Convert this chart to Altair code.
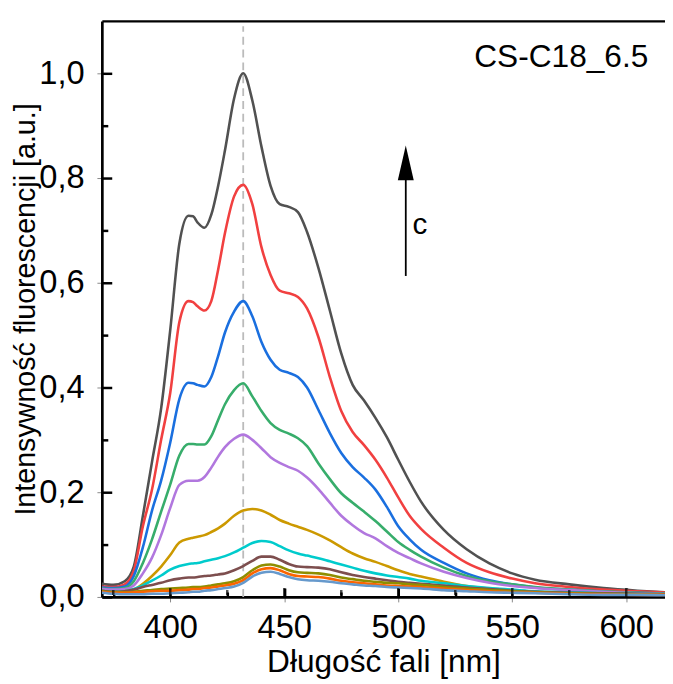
import altair as alt
import pandas as pd

# ---------------- data ----------------
WL = [370, 375, 380, 384, 388, 392, 396, 400, 404, 408, 410, 412, 415, 418, 421, 424,
      428, 432, 436, 440, 444, 448, 452, 456, 460, 465, 470, 475, 480, 485, 490, 495,
      500, 505, 510, 520, 530, 540, 550, 560, 575, 590, 605, 620]

S01 = [0.025, 0.023, 0.030, 0.058, 0.155, 0.258, 0.360, 0.510, 0.675, 0.728, 0.727, 0.715, 0.705, 0.730, 0.785, 0.853,
       0.952, 1.000, 0.948, 0.860, 0.785, 0.750, 0.745, 0.735, 0.697, 0.628, 0.547, 0.465, 0.405, 0.375, 0.342, 0.305,
       0.262, 0.220, 0.182, 0.128, 0.091, 0.064, 0.045, 0.033, 0.024, 0.017, 0.012, 0.008]
S02 = [0.020, 0.019, 0.024, 0.050, 0.135, 0.205, 0.300, 0.390, 0.525, 0.565, 0.563, 0.555, 0.547, 0.565, 0.625, 0.695,
       0.765, 0.787, 0.750, 0.668, 0.615, 0.585, 0.580, 0.573, 0.551, 0.496, 0.420, 0.355, 0.315, 0.290, 0.262, 0.228,
       0.190, 0.155, 0.130, 0.094, 0.065, 0.047, 0.035, 0.026, 0.019, 0.014, 0.011, 0.008]
S03 = [0.018, 0.017, 0.020, 0.040, 0.095, 0.165, 0.222, 0.295, 0.378, 0.409, 0.408, 0.405, 0.402, 0.420, 0.460, 0.505,
       0.545, 0.565, 0.536, 0.487, 0.453, 0.434, 0.428, 0.420, 0.400, 0.357, 0.313, 0.275, 0.248, 0.228, 0.205, 0.172,
       0.135, 0.110, 0.090, 0.065, 0.045, 0.032, 0.024, 0.018, 0.014, 0.010, 0.008, 0.006]
S04 = [0.016, 0.015, 0.017, 0.030, 0.065, 0.110, 0.163, 0.215, 0.270, 0.292, 0.292, 0.291, 0.291, 0.307, 0.338, 0.368,
       0.395, 0.408, 0.383, 0.355, 0.332, 0.319, 0.312, 0.303, 0.288, 0.255, 0.225, 0.198, 0.180, 0.163, 0.145, 0.125,
       0.105, 0.090, 0.077, 0.056, 0.040, 0.030, 0.024, 0.019, 0.014, 0.011, 0.008, 0.006]
S05 = [0.015, 0.014, 0.015, 0.022, 0.045, 0.075, 0.118, 0.170, 0.214, 0.222, 0.222, 0.222, 0.229, 0.247, 0.268, 0.286,
       0.302, 0.310, 0.300, 0.284, 0.267, 0.256, 0.248, 0.241, 0.228, 0.206, 0.180, 0.155, 0.137, 0.122, 0.112, 0.097,
       0.084, 0.074, 0.064, 0.048, 0.036, 0.027, 0.021, 0.017, 0.013, 0.010, 0.007, 0.005]
S06 = [0.012, 0.010, 0.011, 0.014, 0.025, 0.040, 0.058, 0.080, 0.104, 0.111, 0.113, 0.115, 0.118, 0.124, 0.131, 0.140,
       0.155, 0.165, 0.168, 0.165, 0.157, 0.147, 0.140, 0.134, 0.128, 0.119, 0.108, 0.095, 0.083, 0.074, 0.067, 0.059,
       0.051, 0.044, 0.039, 0.029, 0.021, 0.016, 0.013, 0.010, 0.008, 0.006, 0.005, 0.004]
S07 = [0.012, 0.010, 0.011, 0.015, 0.022, 0.031, 0.041, 0.052, 0.059, 0.063, 0.064, 0.065, 0.068, 0.071, 0.074, 0.078,
       0.085, 0.094, 0.103, 0.107, 0.105, 0.097, 0.089, 0.083, 0.079, 0.074, 0.068, 0.062, 0.056, 0.050, 0.045, 0.041,
       0.038, 0.035, 0.031, 0.026, 0.021, 0.017, 0.014, 0.011, 0.009, 0.007, 0.006, 0.005]
S08 = [0.012, 0.010, 0.011, 0.014, 0.019, 0.023, 0.027, 0.032, 0.035, 0.037, 0.037, 0.038, 0.040, 0.041, 0.043, 0.045,
       0.051, 0.059, 0.069, 0.077, 0.077, 0.071, 0.063, 0.058, 0.057, 0.056, 0.053, 0.047, 0.042, 0.038, 0.035, 0.032,
       0.029, 0.027, 0.025, 0.022, 0.018, 0.015, 0.012, 0.010, 0.008, 0.007, 0.006, 0.005]
S09 = [0.011, 0.009, 0.009, 0.010, 0.012, 0.013, 0.015, 0.016, 0.017, 0.018, 0.019, 0.019, 0.020, 0.022, 0.024, 0.026,
       0.030, 0.038, 0.051, 0.060, 0.062, 0.058, 0.051, 0.047, 0.046, 0.045, 0.042, 0.037, 0.034, 0.031, 0.029, 0.027,
       0.026, 0.024, 0.023, 0.019, 0.016, 0.013, 0.011, 0.009, 0.007, 0.006, 0.005, 0.004]
S10 = [0.010, 0.008, 0.008, 0.009, 0.010, 0.011, 0.012, 0.012, 0.013, 0.014, 0.015, 0.015, 0.017, 0.018, 0.020, 0.022,
       0.025, 0.032, 0.045, 0.053, 0.055, 0.051, 0.044, 0.040, 0.039, 0.038, 0.035, 0.031, 0.028, 0.026, 0.024, 0.022,
       0.021, 0.020, 0.019, 0.016, 0.013, 0.011, 0.009, 0.008, 0.006, 0.005, 0.004, 0.004]
S11 = [0.008, 0.006, 0.005, 0.005, 0.005, 0.006, 0.006, 0.007, 0.008, 0.009, 0.010, 0.010, 0.012, 0.013, 0.015, 0.017,
       0.020, 0.027, 0.039, 0.046, 0.048, 0.044, 0.038, 0.034, 0.032, 0.031, 0.029, 0.026, 0.024, 0.022, 0.021, 0.019,
       0.018, 0.017, 0.016, 0.013, 0.011, 0.009, 0.008, 0.007, 0.005, 0.004, 0.004, 0.003]

SERIES = [S01, S02, S03, S04, S05, S06, S07, S08, S09, S10, S11]
NAMES = ["s01", "s02", "s03", "s04", "s05", "s06", "s07", "s08", "s09", "s10", "s11"]
COLORS = ["#515151", "#F14040", "#1A6FDF", "#37AD6B", "#B177DE", "#CC9900",
          "#00CBCC", "#7D4E4E", "#8E8E00", "#FB6501", "#6699CC"]

X_TICKS = [400, 450, 500, 550, 600]
X_MINOR = [375, 425, 475, 525, 575]
Y_TICKS = [0.0, 0.2, 0.4, 0.6, 0.8, 1.0]
Y_MINOR = [0.1, 0.3, 0.5, 0.7, 0.9]

PEAK_NM = 432
PEAK_LINE_TOP = 1.09
ARROW_X = 503.3
ARROW_Y = [0.613, 0.80]
ARROW_HEAD_Y = 0.829
C_LABEL = (509.5, 0.711, "c")
SAMPLE_LABEL = (571.5, 1.03, "CS-C18_6.5")

W, H = 570, 583
X_DOMAIN = [370, 617]
Y_DOMAIN = [0, 1.1]
FONT = "Liberation Sans"

# ---------------- build ----------------
rows = []
for name, vals in zip(NAMES, SERIES):
    for w, v in zip(WL, vals):
        rows.append({"series": name, "nm": w, "val": v})
df = pd.DataFrame(rows)

xs = alt.Scale(domain=X_DOMAIN, nice=False, zero=False)
ys = alt.Scale(domain=Y_DOMAIN, nice=False, zero=False)

x_axis = alt.Axis(orient="bottom", values=X_TICKS, title="Długość fali [nm]", labelPadding=10,
                  domain=False, titleFontSize=32,
                  titleX=W / 2, titleY=75, titleBaseline="alphabetic", titleAlign="center")
y_axis = alt.Axis(orient="left", values=Y_TICKS, title="Intensywność fluorescencji [a.u.]",
                  labelPadding=13, domain=False,
                  labelExpr="replace(format(datum.value, '.1f'), '.', ',')",
                  titleFontSize=29,
                  titleX=-68, titleY=H / 2, titleBaseline="alphabetic", titleAlign="center",
                  titleAngle=270)

lines = alt.Chart(df).mark_line(strokeWidth=2.6, clip=True, interpolate="monotone").encode(
    x=alt.X("nm:Q", scale=xs, axis=x_axis),
    y=alt.Y("val:Q", scale=ys, axis=y_axis),
    color=alt.Color("series:N", scale=alt.Scale(domain=NAMES, range=COLORS), legend=None),
    order=alt.Order("nm:Q"),
)

# frame: label-less axes (top, top moved to the bottom, right moved to the left)
anchor_df = pd.DataFrame({"nm": [X_DOMAIN[0]], "val": [Y_DOMAIN[1]]})
frame_top = alt.Chart(anchor_df).mark_point(opacity=0).encode(
    x=alt.X("nm:Q", scale=xs, axis=alt.Axis(orient="top", labels=False, ticks=False, title=None,
                                            domain=True, domainColor="#000000", domainWidth=2.3)),
    y=alt.Y("val:Q", scale=ys, axis=None),
)
frame_bottom = alt.Chart(anchor_df).mark_point(opacity=0).encode(
    x=alt.X("nm:Q", scale=xs, axis=alt.Axis(orient="top", offset=-H, labels=False, title=None,
                                            values=X_TICKS + X_MINOR, ticks=True,
                                            tickColor="#000000", tickWidth=2.5,
                                            tickSize={"condition": {"test": "datum.value % 50 == 0",
                                                                    "value": 9}, "value": 5},
                                            domain=True, domainColor="#000000", domainWidth=2.7)),
    y=alt.Y("val:Q", scale=ys, axis=None),
)
frame_left = alt.Chart(anchor_df).mark_point(opacity=0).encode(
    x=alt.X("nm:Q", scale=xs, axis=None),
    y=alt.Y("val:Q", scale=ys, axis=alt.Axis(orient="right", offset=-W, labels=False, title=None,
                                             values=Y_TICKS + Y_MINOR, ticks=True,
                                             tickColor="#000000", tickWidth=2.5,
                                             tickSize={"condition": {"test": "round(datum.value * 10) % 2 == 0",
                                                                     "value": 10}, "value": 6},
                                             domain=True, domainColor="#000000", domainWidth=2.7)),
)

peak_df = pd.DataFrame({"nm": [PEAK_NM], "y0": [0.0], "y1": [PEAK_LINE_TOP]})
peak = alt.Chart(peak_df).mark_rule(color="#bbbbbb", strokeWidth=1.8, strokeDash=[8, 5]).encode(
    x=alt.X("nm:Q", scale=xs, axis=None), y=alt.Y("y0:Q", scale=ys, axis=None), y2="y1:Q")

# inward x ticks as tick marks as well (these are known to draw)
xt_df = pd.DataFrame({"t": X_TICKS + X_MINOR,
                      "len": [9] * len(X_TICKS) + [5] * len(X_MINOR),
                      "base": [0.0] * (len(X_TICKS) + len(X_MINOR))})
xticks = alt.Chart(xt_df).mark_tick(color="#000000", thickness=2.5, orient="vertical",
                                    yOffset=-4.5).encode(
    x=alt.X("t:Q", scale=xs, axis=None), y=alt.Y("base:Q", scale=ys, axis=None),
    size=alt.Size("len:Q", scale=None, legend=None))

arrow_df = pd.DataFrame({"x": [ARROW_X], "y0": [ARROW_Y[0]], "y1": [ARROW_Y[1]], "yh": [ARROW_HEAD_Y]})
arrow_line = alt.Chart(arrow_df).mark_rule(color="#000", strokeWidth=1.8).encode(
    x=alt.X("x:Q", scale=xs, axis=None), y=alt.Y("y0:Q", scale=ys, axis=None), y2="y1:Q")
arrow_head = alt.Chart(arrow_df).mark_point(
    shape="M0,-1L0.46,1L-0.46,1Z", filled=True, size=1225, color="#000", opacity=1).encode(
    x=alt.X("x:Q", scale=xs, axis=None), y=alt.Y("yh:Q", scale=ys, axis=None))

c_df = pd.DataFrame({"x": [C_LABEL[0]], "y": [C_LABEL[1]], "t": [C_LABEL[2]]})
s_df = pd.DataFrame({"x": [SAMPLE_LABEL[0]], "y": [SAMPLE_LABEL[1]], "t": [SAMPLE_LABEL[2]]})
c_text = alt.Chart(c_df).mark_text(font=FONT, fontSize=30, color="#000", align="center",
                                   baseline="middle").encode(
    x=alt.X("x:Q", scale=xs, axis=None), y=alt.Y("y:Q", scale=ys, axis=None), text="t:N")
s_text = alt.Chart(s_df).mark_text(font=FONT, fontSize=32, color="#000", align="center",
                                   baseline="middle").encode(
    x=alt.X("x:Q", scale=xs, axis=None), y=alt.Y("y:Q", scale=ys, axis=None), text="t:N")

chart = alt.layer(
    peak, lines, frame_top, frame_bottom, frame_left,
    arrow_line, arrow_head, c_text, s_text, xticks
).resolve_axis(x="independent", y="independent").properties(
    width=W, height=H,
    autosize=alt.AutoSizeParams(type="none"),
    padding={"left": 95, "top": 9, "right": 0, "bottom": 84},
).configure_view(stroke=None).configure_axis(
    grid=False,
    labelFont=FONT, labelFontSize=33, labelColor="#000",
    titleFont=FONT, titleFontSize=30, titleFontWeight="normal", titleColor="#000",
)

chart.save("out.html", embed_options={"renderer": "svg", "actions": False})
